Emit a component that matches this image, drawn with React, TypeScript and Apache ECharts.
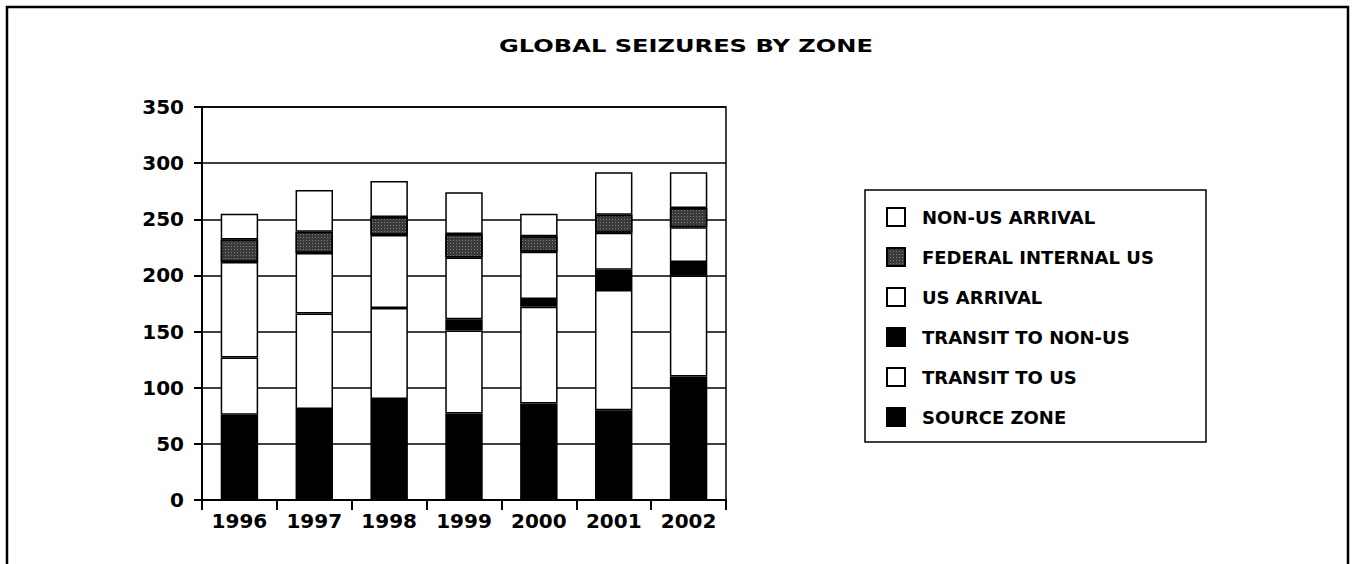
import React, { useEffect, useRef } from "react";
import * as echarts from "echarts";

const categories = ["1996", "1997", "1998", "1999", "2000", "2001", "2002"];
const sourceZone = [76, 81, 90, 77, 86, 80, 110];
const transitToUS = [51, 85, 81, 74, 86, 107, 90];
const transitToNonUS = [null, null, null, 10, 7, 18, 12];
const usArrival = [85, 54, 65, 55, 42, 33, 31];
const federalInternalUS = [20, 19, 16, 21, 14, 16, 17];
const nonUSArrival = [23, 37, 32, 37, 20, 38, 32];

const legendOrder = [
  "Non-US Arrival",
  "Federal Internal US",
  "US Arrival",
  "Transit to Non-US",
  "Transit to US",
  "Source Zone",
];

const FONT = "DejaVu Sans";

export default function App() {
  const ref = useRef<HTMLDivElement>(null);
  useEffect(() => {
    document.body.style.margin = "0";
    const chart = echarts.init(ref.current!, null, { renderer: "svg" });
    const border = { borderColor: "#000", borderWidth: 1.5 };
    const mk = (name: string, data: (number | null)[], color: string, extra: any = {}) => ({
      name,
      type: "bar",
      stack: "total",
      data,
      barWidth: "50%",
      itemStyle: { color, ...border, ...extra },
      emphasis: { disabled: true },
    });
    chart.setOption({
      animation: false,
      backgroundColor: "#fff",
      graphic: [
        {
          type: "rect",
          shape: { x: 7, y: 7, width: 1341, height: 640 },
          style: { fill: "none", stroke: "#000", lineWidth: 2.5 },
          silent: true,
        },
        {
          type: "rect",
          shape: { x: 865, y: 190, width: 341, height: 252 },
          style: { fill: "none", stroke: "#000", lineWidth: 1.5 },
          silent: true,
        },
        {
          type: "text",
          x: 686,
          y: 46,
          scaleX: 1.42,
          style: {
            text: "GLOBAL SEIZURES BY ZONE",
            fontFamily: FONT,
            fontWeight: "bold",
            fontSize: 17,
            fill: "#000",
            align: "center",
            verticalAlign: "middle",
          },
          silent: true,
        },
      ],
      legend: {
        data: legendOrder,
        orient: "vertical",
        left: 881,
        top: 202,
        itemWidth: 18,
        itemHeight: 18,
        itemGap: 20,
        icon: "rect",
        selectedMode: false,
        formatter: (name: string) => name.toUpperCase(),
        textStyle: {
          fontFamily: FONT,
          fontWeight: "bold",
          fontSize: 18,
          lineHeight: 20,
          color: "#000",
          padding: [0, 0, 0, 12],
        },
      },
      grid: {
        left: 202,
        right: 627,
        top: 107,
        bottom: 64,
        show: true,
        borderColor: "#000",
        borderWidth: 1.5,
        backgroundColor: "transparent",
      },
      xAxis: {
        type: "category",
        data: categories,
        axisLine: { lineStyle: { color: "#000", width: 2 } },
        axisTick: { show: true, inside: false, length: 10, lineStyle: { color: "#000", width: 2 } },
        axisLabel: {
          fontFamily: FONT,
          fontWeight: "bold",
          fontSize: 20,
          color: "#000",
          margin: 11,
          interval: 0,
        },
      },
      yAxis: {
        type: "value",
        min: 0,
        max: 350,
        interval: 50,
        axisLine: { show: true, lineStyle: { color: "#000", width: 2 } },
        axisTick: { show: true, inside: false, length: 8, lineStyle: { color: "#000", width: 2 } },
        splitLine: { show: true, lineStyle: { color: "#000", width: 1.5 } },
        axisLabel: {
          fontFamily: FONT,
          fontWeight: "bold",
          fontSize: 20,
          color: "#000",
          margin: 18,
        },
      },
      series: [
        mk("Source Zone", sourceZone, "#000"),
        mk("Transit to US", transitToUS, "#fff"),
        mk("Transit to Non-US", transitToNonUS, "#000"),
        mk("US Arrival", usArrival, "#fff"),
        mk("Federal Internal US", federalInternalUS, "#3a3a3a", {
          decal: {
            symbol: "rect",
            symbolSize: 1,
            color: "rgba(255,255,255,0.35)",
            dashArrayX: [1, 2],
            dashArrayY: [1, 2],
            rotation: 0,
          },
        }),
        mk("Non-US Arrival", nonUSArrival, "#fff"),
      ],
    });
    return () => chart.dispose();
  }, []);
  return <div ref={ref} style={{ width: 1353, height: 564 }} />;
}
